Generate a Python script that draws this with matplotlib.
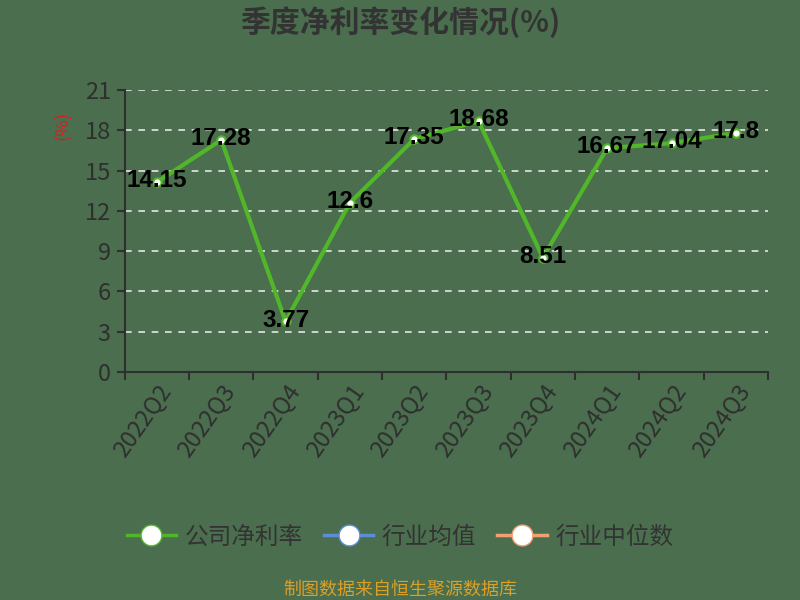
import numpy as np
import matplotlib.pyplot as plt
from matplotlib.lines import Line2D

plt.rcParams['font.family'] = ['Noto Sans CJK SC', 'DejaVu Sans']
plt.rcParams['axes.unicode_minus'] = False

# ── 数据 ──
quarters = ['2022Q2', '2022Q3', '2022Q4', '2023Q1', '2023Q2',
            '2023Q3', '2023Q4', '2024Q1', '2024Q2', '2024Q3']
net_margin = [14.15, 17.28, 3.77, 12.6, 17.35, 18.68, 8.51, 16.67, 17.04, 17.8]
labels = ['14.15', '17.28', '3.77', '12.6', '17.35', '18.68', '8.51', '16.67', '17.04', '17.8']
y_ticks = [0, 3, 6, 9, 12, 15, 18, 21]

bg = '#4a6e4e'
green = '#52b62a'
axis_col = '#2f2f2f'

fig = plt.figure(figsize=(8, 6), dpi=100, facecolor=bg)
ax = fig.add_axes([0.156, 0.38, 0.804, 0.47])
ax.set_facecolor(bg)

x = np.arange(len(quarters))
ax.plot(x, net_margin, color=green, linewidth=3, marker='o', markersize=6,
        markerfacecolor='white', markeredgecolor=green, markeredgewidth=1.5, zorder=3)

# 数据标签
for xi, yi, lab in zip(x, net_margin, labels):
    ax.text(xi, yi + 0.1, lab, ha='center', va='center', fontsize=17.5,
            color='black', family='Liberation Sans', fontweight='bold', zorder=4)

ax.set_xlim(-0.5, len(quarters) - 0.5)
ax.set_ylim(0, 21)
ax.set_yticks(y_ticks)
ax.set_yticklabels([str(v) for v in y_ticks], fontsize=17, color=axis_col)
ax.set_xticks(x)
ax.set_xticklabels(quarters, rotation=55, ha='right', rotation_mode='anchor',
                   fontsize=17, color=axis_col)
ax.tick_params(axis='x', length=0, pad=6)
ax.set_xticks(np.arange(len(quarters) + 1) - 0.5, minor=True)
ax.tick_params(axis='x', which='minor', length=6, width=1.5, color=axis_col)
ax.tick_params(axis='y', length=6, width=1.5, color=axis_col, pad=4)

for v in y_ticks[1:]:
    ax.axhline(v, color='#e6e6e6', linestyle=(0, (4, 4)), linewidth=1.2, zorder=1)

for s in ['top', 'right']:
    ax.spines[s].set_visible(False)
for s in ['left', 'bottom']:
    ax.spines[s].set_color(axis_col)
    ax.spines[s].set_linewidth(1.5)

fig.text(0.079, 0.79, '(%)', rotation=90, color='#d62020', fontsize=13,
         ha='center', va='center')

fig.text(0.5, 0.963, '季度净利率变化情况(%)', ha='center', va='center',
         fontsize=21.5, fontweight='bold', color='#333333')

# ── 图例 ──
handles = [
    Line2D([], [], color=green, linewidth=2.5, marker='o', markersize=15,
           markerfacecolor='white', markeredgecolor=green),
    Line2D([], [], color='#5b8ed6', linewidth=2.5, marker='o', markersize=15,
           markerfacecolor='white', markeredgecolor='#5b8ed6'),
    Line2D([], [], color='#f0a070', linewidth=2.5, marker='o', markersize=15,
           markerfacecolor='white', markeredgecolor='#f0a070'),
]
fig.legend(handles, ['公司净利率', '行业均值', '行业中位数'], loc='center',
           bbox_to_anchor=(0.5, 0.105), ncol=3, frameon=False, fontsize=17,
           labelcolor='#333333', handlelength=2.1, columnspacing=0.9,
           handletextpad=0.35)

fig.text(0.5, 0.017, '制图数据来自恒生聚源数据库', ha='center', va='center',
         fontsize=13, color='#d9a02a')

plt.savefig('out.png', dpi=100, facecolor=bg)
plt.close()
